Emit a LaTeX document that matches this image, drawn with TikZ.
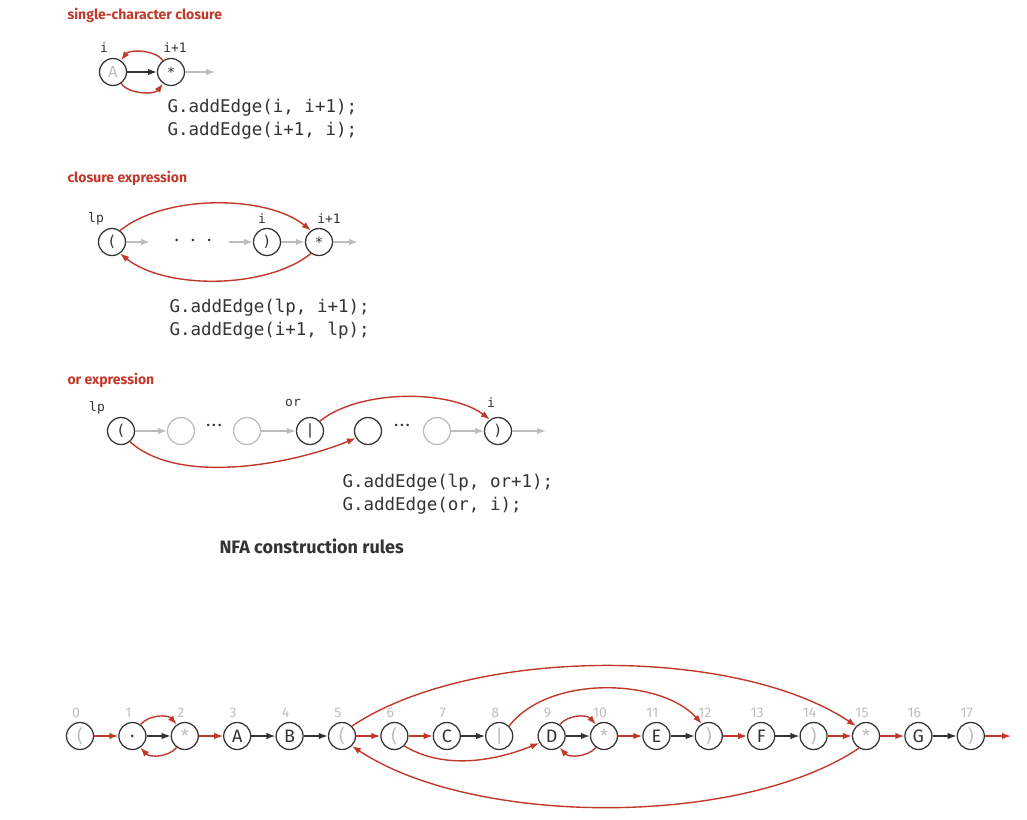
\documentclass[tikz,border=0pt]{standalone}
\usepackage{fontspec}
\setmainfont{Fira Sans}
\setmonofont{DejaVu Sans Mono}
\usetikzlibrary{arrows.meta}
\definecolor{nfared}{RGB}{192,57,43}
\definecolor{lightg}{RGB}{188,188,188}
\definecolor{ink}{RGB}{51,51,51}
\definecolor{numg}{RGB}{190,190,190}

\begin{document}
\begin{tikzpicture}[x=1pt,y=-1pt,
  st/.style={circle,draw=ink,line width=1.25pt,minimum size=27pt,inner sep=0pt,fill=white,
             font=\fontsize{18}{18}\selectfont,text=ink},
  gst/.style={st,text=lightg},
  ghost/.style={st,draw=lightg},
  tip/.style={-{Latex[length=9pt,width=6.5pt]}},
  eps/.style={draw=nfared,line width=1.4pt,tip},
  mt/.style={draw=ink,line width=1.4pt,tip},
  gr/.style={draw=lightg,line width=1.4pt,tip},
  ttl/.style={anchor=west,text=nfared,font=\fontsize{14}{14}\selectfont\bfseries},
  code/.style={anchor=west,text=ink,font=\ttfamily\fontsize{17.5}{17.5}\selectfont},
  idx/.style={text=ink,font=\ttfamily\fontsize{13}{13}\selectfont},
  num/.style={text=numg,font=\fontsize{14}{14}\selectfont},
  dots/.style={text=ink,font=\fontsize{18}{18}\selectfont}
]
\useasboundingbox (0,0) rectangle (1027,819);

% ---------- single-character closure ----------
\node[ttl] (t1) at (64,15) {single-character closure};
\node[st,text=lightg,font=\fontsize{16}{16}\selectfont] (a) at (113,72) {A};
\node[st,font=\ttfamily\fontsize{14}{14}\selectfont] (s1) at (171,72) {*};
\node[idx] (ia) at (104,48) {i};
\node[idx] (is) at (175,48) {i+1};
\coordinate (o1) at (215,72);
\draw[mt] (a) -- (s1);
\draw[gr] (s1) -- (o1);
\draw[eps] (s1.125) .. controls +(-8,-11) and +(8,-11) .. (a.55);
\draw[eps] (a.-55) .. controls +(8,11) and +(-8,11) .. (s1.-125);
\node[code] (c1a) at (164,108) {G.addEdge(i, i+1);};
\node[code] (c1b) at (164,131) {G.addEdge(i+1, i);};

% ---------- closure expression ----------
\node[ttl] (t2) at (64,178) {closure expression};
\node[st,font=\ttfamily\fontsize{15}{15}\selectfont] (lp) at (112,242) {(};
\node[st,font=\ttfamily\fontsize{15}{15}\selectfont] (rp) at (267,242) {)};
\node[st,font=\ttfamily\fontsize{14}{14}\selectfont] (s2) at (319,242) {*};
\node[idx] (ilp) at (96,219) {lp};
\node[idx] (ii) at (262,219) {i};
\node[idx] (is2) at (329,219) {i+1};
\coordinate (g1) at (150,242);
\coordinate (g2) at (229,242);
\coordinate (o2) at (358,242);
\node[dots] (d2) at (193,240) {.\hspace{12pt}.\hspace{12pt}.};
\draw[gr] (lp) -- (g1);
\draw[gr] (g2) -- (rp);
\draw[gr] (rp) -- (s2);
\draw[gr] (s2) -- (o2);
\draw[eps] (lp.55) .. controls +(45,-36) and +(-45,-36) .. (s2.125);
\draw[eps] (s2.-125) .. controls +(-45,36) and +(45,36) .. (lp.-55);
\node[code] (c2a) at (166,308) {G.addEdge(lp, i+1);};
\node[code] (c2b) at (166,331) {G.addEdge(i+1, lp);};

% ---------- or expression ----------
\node[ttl] (t3) at (64,380) {or expression};
\node[st,font=\ttfamily\fontsize{15}{15}\selectfont] (olp) at (121,431) {(};
\node[ghost] (og1) at (181,431) {};
\node[ghost] (og2) at (247,431) {};
\node[st,font=\fontsize{16}{16}\selectfont] (obar) at (310,431) {|};
\node[st] (onext) at (368,431) {};
\node[ghost] (og3) at (437,431) {};
\node[st,font=\ttfamily\fontsize{15}{15}\selectfont] (orp) at (498,431) {)};
\node[idx] (olab) at (97,408) {lp};
\node[idx] (oor) at (293,403) {or};
\node[idx] (oi) at (491,403) {i};
\node[dots] (od1) at (214,425) {.\hspace{1.5pt}.\hspace{1.5pt}.};
\node[dots] (od2) at (402,425) {.\hspace{1.5pt}.\hspace{1.5pt}.};
\coordinate (o3) at (546,431);
\draw[gr] (olp) -- (og1);
\draw[gr] (og2) -- (obar);
\draw[gr] (og3) -- (orp);
\draw[gr] (orp) -- (o3);
\draw[eps] (obar.45) .. controls +(40,-32) and +(-40,-30) .. (orp.125);
\draw[eps] (olp.-50) .. controls +(50,45) and +(-60,25) .. (onext.-150);
\node[code] (c3a) at (339,483) {G.addEdge(lp, or+1);};
\node[code] (c3b) at (339,506) {G.addEdge(or, i);};

\node[anchor=west,text=ink,font=\fontsize{18}{18}\selectfont\bfseries] (cap) at (216,546) {NFA construction rules};

% ---------- NFA for ( ( A * B ( ( C | D * ) E ) F ) * G ) ----------
\node[gst] (n0)  at (80.0,736)  {(};
\node[st]  (n1)  at (132.4,736) {.};
\node[gst] (n2)  at (184.8,736) {*};
\node[st]  (n3)  at (237.2,736) {A};
\node[st]  (n4)  at (289.6,736) {B};
\node[gst] (n5)  at (342.0,736) {(};
\node[gst] (n6)  at (394.4,736) {(};
\node[st]  (n7)  at (446.8,736) {C};
\node[gst] (n8)  at (499.2,736) {|};
\node[st]  (n9)  at (551.6,736) {D};
\node[gst] (n10) at (604.0,736) {*};
\node[st]  (n11) at (656.4,736) {E};
\node[gst] (n12) at (708.8,736) {)};
\node[st]  (n13) at (761.2,736) {F};
\node[gst] (n14) at (813.6,736) {)};
\node[gst] (n15) at (866.0,736) {*};
\node[st]  (n16) at (918.4,736) {G};
\node[gst] (n17) at (970.8,736) {)};
\coordinate (nend) at (1011,736);

\foreach \k/\xx in {0/80.0,1/132.4,2/184.8,3/237.2,4/289.6,5/342.0,6/394.4,7/446.8,8/499.2,
                    9/551.6,10/604.0,11/656.4,12/708.8,13/761.2,14/813.6,15/866.0,16/918.4,17/970.8}
  \node[num] (lab\k) at (\xx-4,713) {\k};

% match transitions
\draw[mt] (n1) -- (n2);
\draw[mt] (n3) -- (n4);
\draw[mt] (n4) -- (n5);
\draw[mt] (n7) -- (n8);
\draw[mt] (n9) -- (n10);
\draw[mt] (n11) -- (n12);
\draw[mt] (n13) -- (n14);
\draw[mt] (n16) -- (n17);

% epsilon transitions
\draw[eps] (n0) -- (n1);
\draw[eps] (n2) -- (n3);
\draw[eps] (n5) -- (n6);
\draw[eps] (n6) -- (n7);
\draw[eps] (n10) -- (n11);
\draw[eps] (n12) -- (n13);
\draw[eps] (n14) -- (n15);
\draw[eps] (n15) -- (n16);
\draw[eps] (n17) -- (nend);

\draw[eps] (n1.55) .. controls +(9,-10) and +(-9,-10) .. (n2.125);
\draw[eps] (n2.-125) .. controls +(-9,10) and +(9,10) .. (n1.-55);
\draw[eps] (n9.55) .. controls +(9,-10) and +(-9,-10) .. (n10.125);
\draw[eps] (n10.-125) .. controls +(-9,10) and +(9,10) .. (n9.-55);

\draw[eps] (n5.45) .. controls +(120,-80) and +(-120,-80) .. (n15.135);
\draw[eps] (n15.-120) .. controls +(-120,80) and +(120,80) .. (n5.-45);
\draw[eps] (n6.-45) .. controls +(40,24) and +(-45,18) .. (n9.-150);
\draw[eps] (n8.45) .. controls +(40,-52) and +(-40,-45) .. (n12.120);
\end{tikzpicture}
\end{document}
